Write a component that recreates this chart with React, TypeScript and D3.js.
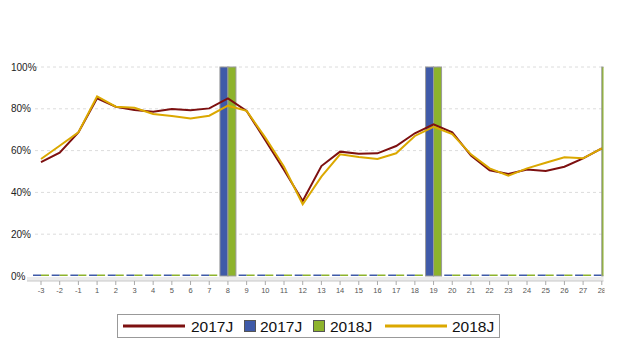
import * as d3 from "d3";
import { useEffect, useRef } from "react";

const categories = ["-3", "-2", "-1", "1", "2", "3", "4", "5", "6", "7", "8", "9", "10", "11", "12", "13", "14", "15", "16", "17", "18", "19", "20", "21", "22", "23", "24", "25", "26", "27", "28"];

const line2017 = [54.5, 59, 68.7, 85, 81, 79.4, 78.6, 79.9, 79.3, 80.2, 85, 79, 65, 50.7, 35.9, 52.6, 59.5, 58.5, 58.7, 62.2, 68.3, 72.6, 68.7, 57.6, 50.6, 48.8, 51, 50.2, 52.3, 56.3, 61.1];
const line2018 = [56, 62.3, 68.7, 85.9, 81, 80.5, 77.5, 76.6, 75.4, 76.7, 81.5, 79, 66.2, 52.3, 34.3, 47.5, 58.2, 56.9, 56, 58.7, 67, 71.4, 67.9, 58.2, 51.5, 48, 51.5, 54.2, 56.8, 56.3, 61.1];
const bar2017 = [0, 0, 0, 0, 0, 0, 0, 0, 0, 0, 100, 0, 0, 0, 0, 0, 0, 0, 0, 0, 0, 100, 0, 0, 0, 0, 0, 0, 0, 0, 0];
const bar2018 = [0, 0, 0, 0, 0, 0, 0, 0, 0, 0, 100, 0, 0, 0, 0, 0, 0, 0, 0, 0, 0, 100, 0, 0, 0, 0, 0, 0, 0, 0, 100];
const yTicks = [0, 20, 40, 60, 80, 100];

export default function App() {
  const svgRef = useRef<SVGSVGElement>(null);

  useEffect(() => {
    if (!svgRef.current) return;
    const svg = d3.select<SVGSVGElement, unknown>(svgRef.current);
    svg.selectAll("*").remove();
    const width = 630;
    const height = 358;
    const font = "'Liberation Sans', Arial, sans-serif";
    const plot = { left: 27, right: 603.5, top: 67, bottom: 276 };

    svg.attr("width", width).attr("height", height);
    svg.append("rect").attr("width", width).attr("height", height).attr("fill", "#fff");

    const x = d3.scaleLinear().domain([0, categories.length - 1]).range([41, 601.8]);
    const y = d3.scaleLinear().domain([0, 100]).range([plot.bottom, plot.top]);

    // clip for the plot area
    svg.append("clipPath").attr("id", "plotclip")
      .append("rect")
      .attr("x", plot.left).attr("y", plot.top - 2)
      .attr("width", plot.right - plot.left).attr("height", plot.bottom - plot.top + 4);
    svg.append("clipPath").attr("id", "plotclip2")
      .append("rect").attr("x", 0).attr("y", 0).attr("width", plot.right + 1).attr("height", height);

    // gridlines
    svg.append("g")
      .selectAll("line")
      .data(yTicks.filter((d) => d > 0))
      .enter()
      .append("line")
      .attr("x1", plot.left + 8)
      .attr("x2", plot.right)
      .attr("y1", (d) => y(d))
      .attr("y2", (d) => y(d))
      .attr("stroke", "#dcdcdc")
      .attr("stroke-dasharray", "3,3");

    // y labels
    svg.append("g")
      .selectAll("text")
      .data(yTicks)
      .enter()
      .append("text")
      .attr("x", 11)
      .attr("y", (d) => y(d) + 3.5)
      .attr("font-family", font)
      .attr("font-size", "10px")
      .attr("fill", "#222")
      .text((d) => `${d}%`);

    // x axis band
    svg.append("rect")
      .attr("x", plot.left).attr("y", plot.bottom + 1)
      .attr("width", plot.right - plot.left).attr("height", 4)
      .attr("fill", "#ececec");
    svg.append("line")
      .attr("x1", plot.left).attr("x2", plot.right)
      .attr("y1", plot.bottom + 5).attr("y2", plot.bottom + 5)
      .attr("stroke", "#c8c8c8");
    const axisG = svg.append("g").attr("clip-path", "url(#plotclip2)");
    axisG.selectAll("line")
      .data(categories)
      .enter()
      .append("line")
      .attr("x1", (_d, i) => x(i))
      .attr("x2", (_d, i) => x(i))
      .attr("y1", plot.bottom + 5)
      .attr("y2", plot.bottom + 9)
      .attr("stroke", "#aaa");
    axisG.selectAll("text")
      .data(categories)
      .enter()
      .append("text")
      .attr("x", (_d, i) => x(i))
      .attr("y", plot.bottom + 17)
      .attr("text-anchor", "middle")
      .attr("font-family", font)
      .attr("font-size", "7.5px")
      .attr("fill", "#555")
      .text((d) => d);

    const g = svg.append("g").attr("clip-path", "url(#plotclip)");
    const bw = 8;

    // bars
    const drawBars = (data: number[], offset: number, color: string) => {
      g.append("g")
        .selectAll("rect")
        .data(data)
        .enter()
        .append("rect")
        .attr("x", (_d, i) => x(i) + offset)
        .attr("width", bw)
        .attr("y", (d) => (d > 0 ? y(d) : y(0) - 1.5))
        .attr("height", (d) => (d > 0 ? y(0) - y(d) : 1.5))
        .attr("fill", color)
        .attr("stroke", (d) => (d > 0 ? "#9a9a9a" : "none"))
        .attr("stroke-width", 1);
    };
    drawBars(bar2017, -bw, "#3f5aa8");
    drawBars(bar2018, 0, "#8db32c");

    // lines
    const lineGen = d3.line<number>()
      .x((_d, i) => x(i))
      .y((d) => y(d));
    g.append("path")
      .datum(line2017)
      .attr("d", lineGen)
      .attr("fill", "none")
      .attr("stroke", "#7d1010")
      .attr("stroke-width", 2);
    g.append("path")
      .datum(line2018)
      .attr("d", lineGen)
      .attr("fill", "none")
      .attr("stroke", "#dba800")
      .attr("stroke-width", 2);

    // legend
    const lg = svg.append("g");
    lg.append("rect")
      .attr("x", 117.5).attr("y", 314.5)
      .attr("width", 382).attr("height", 23)
      .attr("fill", "#fff").attr("stroke", "#999");
    const ly = 326;
    const items = [
      { kind: "line", color: "#7d1010", label: "2017J", x0: 123, x1: 185, tx: 191 },
      { kind: "box", color: "#3f5aa8", label: "2017J", x0: 244, x1: 255, tx: 260 },
      { kind: "box", color: "#8db32c", label: "2018J", x0: 313, x1: 324, tx: 330 },
      { kind: "line", color: "#dba800", label: "2018J", x0: 385, x1: 447, tx: 452 },
    ];
    items.forEach((it) => {
      if (it.kind === "line") {
        lg.append("line")
          .attr("x1", it.x0).attr("x2", it.x1)
          .attr("y1", ly).attr("y2", ly)
          .attr("stroke", it.color).attr("stroke-width", 3);
      } else {
        lg.append("rect")
          .attr("x", it.x0 + 0.5).attr("y", ly - 5.5)
          .attr("width", it.x1 - it.x0).attr("height", 11)
          .attr("fill", it.color).attr("stroke", "#555");
      }
      lg.append("text")
        .attr("x", it.tx)
        .attr("y", ly + 5.5)
        .attr("font-family", font)
        .attr("font-size", "15.5px")
        .attr("fill", "#111")
        .text(it.label);
    });
  }, []);

  return <svg ref={svgRef} style={{ position: "absolute", left: 0, top: 0 }}></svg>;
}
